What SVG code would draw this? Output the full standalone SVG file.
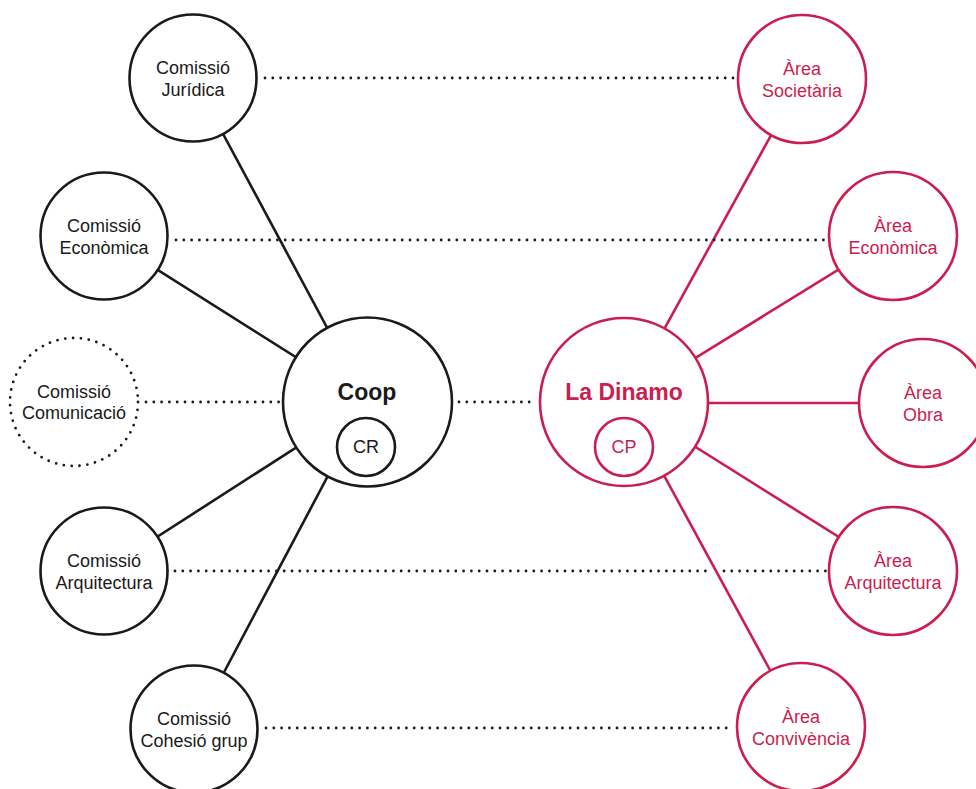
<svg xmlns="http://www.w3.org/2000/svg" width="976" height="789" viewBox="0 0 976 789">
  <style>
    .bg { fill: #ffffff; }
    .node-k { fill: #ffffff; stroke: #1a1a1a; stroke-width: 2.6; }
    .node-p { fill: #ffffff; stroke: #cc1d50; stroke-width: 2.6; }
    .node-dot { fill: #ffffff; stroke: #1a1a1a; stroke-width: 2.8; stroke-linecap: round; stroke-dasharray: 0 7.9; }
    .link-k { stroke: #1a1a1a; stroke-width: 2.6; fill: none; }
    .link-p { stroke: #cc1d50; stroke-width: 2.6; fill: none; }
    .link-dot { stroke: #1a1a1a; stroke-width: 2.8; stroke-linecap: round; stroke-dasharray: 0 7.8; fill: none; }
    .lbl { font-family: "Liberation Sans", Arial, sans-serif; font-size: 18px; text-anchor: middle; }
    .lbl-k { fill: #1a1a1a; }
    .lbl-p { fill: #cc1d50; }
    .hub { font-family: "Liberation Sans", Arial, sans-serif; font-size: 23px; font-weight: bold; text-anchor: middle; }
  </style>

  <rect class="bg" x="0" y="0" width="976" height="789"/>

  <!-- connectors: solid spokes to hubs, dotted pairings between the two sides -->
  <g id="connectors">
    <line class="link-k" x1="193" y1="78" x2="367" y2="402"/>
    <line class="link-k" x1="104" y1="236" x2="367" y2="402"/>
    <line class="link-k" x1="104" y1="571" x2="367" y2="402"/>
    <line class="link-k" x1="194" y1="729" x2="367" y2="402"/>

    <line class="link-p" x1="802" y1="79" x2="624" y2="402"/>
    <line class="link-p" x1="893" y1="236" x2="624" y2="402"/>
    <line class="link-p" x1="923" y1="403" x2="624" y2="403"/>
    <line class="link-p" x1="893" y1="571" x2="624" y2="402"/>
    <line class="link-p" x1="801" y1="727" x2="624" y2="402"/>

    <line class="link-dot" x1="265" y1="78" x2="734" y2="78"/>
    <line class="link-dot" x1="176" y1="240" x2="826" y2="240"/>
    <line class="link-dot" x1="146" y1="402" x2="280" y2="402"/>
    <line class="link-dot" x1="459" y1="402" x2="537" y2="402"/>
    <line class="link-dot" x1="175" y1="571" x2="706" y2="571"/>
    <line class="link-dot" x1="724" y1="571" x2="826" y2="571"/>
    <line class="link-dot" x1="266" y1="728" x2="734" y2="728"/>
  </g>

  <!-- left side: commissions -->
  <g id="comissio-juridica">
    <circle class="node-k" cx="193" cy="78" r="63.5"/>
    <text class="lbl lbl-k" x="193" y="74">Comissió</text>
    <text class="lbl lbl-k" x="193" y="96">Jurídica</text>
  </g>
  <g id="comissio-economica">
    <circle class="node-k" cx="104" cy="236" r="63.5"/>
    <text class="lbl lbl-k" x="104" y="232">Comissió</text>
    <text class="lbl lbl-k" x="104" y="254">Econòmica</text>
  </g>
  <g id="comissio-comunicacio">
    <circle class="node-dot" cx="74" cy="402" r="64"/>
    <text class="lbl lbl-k" x="74" y="398">Comissió</text>
    <text class="lbl lbl-k" x="74" y="419">Comunicació</text>
  </g>
  <g id="comissio-arquitectura">
    <circle class="node-k" cx="104" cy="571" r="63.5"/>
    <text class="lbl lbl-k" x="104" y="567">Comissió</text>
    <text class="lbl lbl-k" x="104" y="589">Arquitectura</text>
  </g>
  <g id="comissio-cohesio">
    <circle class="node-k" cx="194" cy="729" r="63.5"/>
    <text class="lbl lbl-k" x="194" y="725">Comissió</text>
    <text class="lbl lbl-k" x="194" y="747">Cohesió grup</text>
  </g>

  <!-- hubs -->
  <g id="coop">
    <circle class="node-k" cx="367.5" cy="402" r="84.5"/>
    <text class="hub lbl-k" x="367" y="400">Coop</text>
    <circle class="node-k" cx="366" cy="447" r="29"/>
    <text class="lbl lbl-k" x="366" y="453">CR</text>
  </g>
  <g id="la-dinamo">
    <circle class="node-p" cx="624" cy="402" r="84"/>
    <text class="hub lbl-p" x="624" y="400">La Dinamo</text>
    <circle class="node-p" cx="624" cy="447" r="29"/>
    <text class="lbl lbl-p" x="624" y="453">CP</text>
  </g>

  <!-- right side: areas -->
  <g id="area-societaria">
    <circle class="node-p" cx="802" cy="79" r="64"/>
    <text class="lbl lbl-p" x="802" y="75">Àrea</text>
    <text class="lbl lbl-p" x="802" y="97">Societària</text>
  </g>
  <g id="area-economica">
    <circle class="node-p" cx="893" cy="236" r="64"/>
    <text class="lbl lbl-p" x="893" y="232">Àrea</text>
    <text class="lbl lbl-p" x="893" y="254">Econòmica</text>
  </g>
  <g id="area-obra">
    <circle class="node-p" cx="923" cy="403" r="64"/>
    <text class="lbl lbl-p" x="923" y="399">Àrea</text>
    <text class="lbl lbl-p" x="923" y="421">Obra</text>
  </g>
  <g id="area-arquitectura">
    <circle class="node-p" cx="893" cy="571" r="64"/>
    <text class="lbl lbl-p" x="893" y="567">Àrea</text>
    <text class="lbl lbl-p" x="893" y="589">Arquitectura</text>
  </g>
  <g id="area-convivencia">
    <circle class="node-p" cx="801" cy="727" r="64"/>
    <text class="lbl lbl-p" x="801" y="723">Àrea</text>
    <text class="lbl lbl-p" x="801" y="745">Convivència</text>
  </g>
</svg>
